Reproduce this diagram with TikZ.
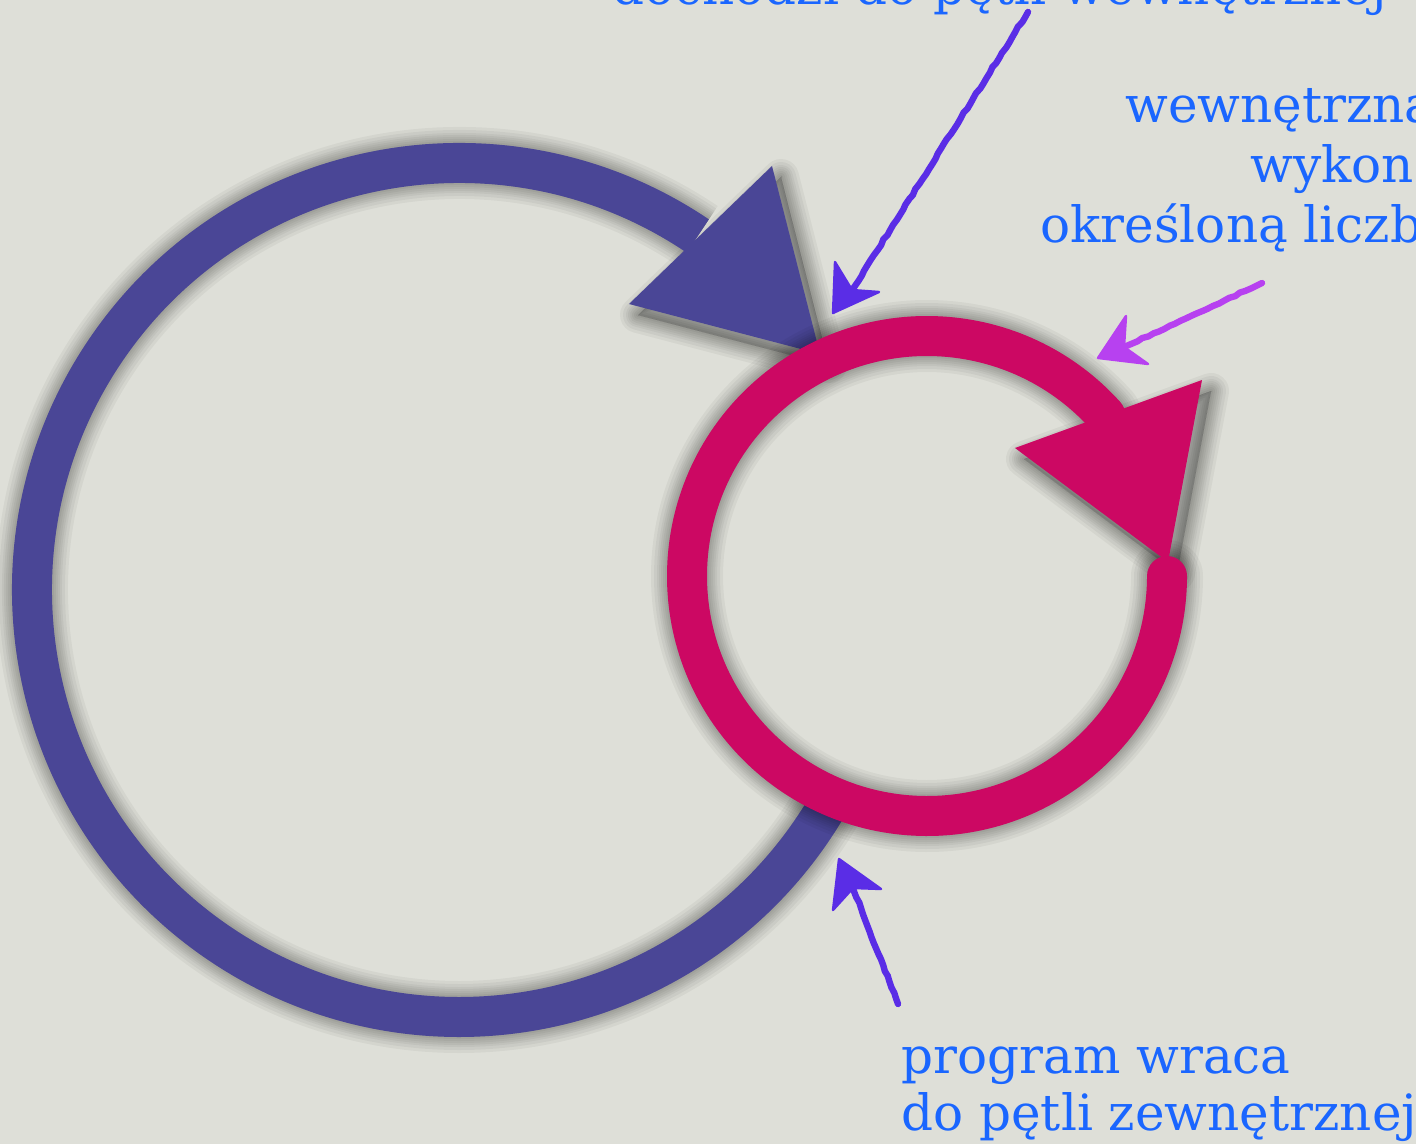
\documentclass[tikz,border=0pt]{standalone}
\usepackage{fontspec}
\setmainfont{DejaVu Serif}
\usetikzlibrary{calc,decorations.pathmorphing}
\definecolor{bgc}{HTML}{DEDFD8}
\definecolor{outerc}{HTML}{4A4696}
\definecolor{innerc}{HTML}{CC0863}
\definecolor{txtc}{HTML}{1A66FF}
\definecolor{penA}{HTML}{5A2DE6}
\definecolor{penB}{HTML}{B741F0}
\tikzset{
  label text/.style={text=txtc, font=\fontsize{25pt}{30pt}\selectfont, inner sep=0pt},
  pen shaft/.style={line width=3.2pt, line cap=round, decorate, decoration={random steps, segment length=3pt, amplitude=0.35pt}},
  pen head/.style={line width=1.2pt, line join=round},
  shadow layer/.style={black, opacity=0.045},
}
\begin{document}
\begin{tikzpicture}[x=0.5pt,y=-0.5pt]
\useasboundingbox (0,0) rectangle (1416,1144);
\fill[bgc] (0,0) rectangle (1416,1144);

\coordinate (C1) at (459,590);
\coordinate (C2) at (927,576);

% ---------- outer (purple) loop ----------
\def\outerarc{($(C1)+(-56:427)$) arc[start angle=-56, end angle=-330, radius=427]}
\def\outerhead{(629,304) -- (772,166) -- (820,354) -- cycle}
\begin{scope}[shift={(9,11)}]
  \fill[black, opacity=0.18] \outerhead;
  \foreach \w in {36,33,30,28,26,24,22,20,18} {
    \draw[shadow layer, line width=\w pt] \outerarc;
    \draw[shadow layer, line width=\w pt-18pt, line join=round] \outerhead;
  }
\end{scope}
\draw[outerc, line width=20pt] \outerarc;
\fill[outerc] \outerhead;

% ---------- inner (pink) loop ----------
\def\innerarc{($(C2)+(-42:240)$) arc[start angle=-42, end angle=-360, radius=240]}
\def\innerhead{(1015,448) -- (1202,380) -- (1168,562) -- cycle}
\begin{scope}[shift={(9,11)}]
  \fill[black, opacity=0.18] \innerhead;
  \foreach \w in {36,33,30,28,26,24,22,20,18} {
    \draw[shadow layer, line width=\w pt, line cap=round] \innerarc;
    \draw[shadow layer, line width=\w pt-18pt, line join=round] \innerhead;
  }
\end{scope}
\draw[innerc, line width=20pt, line cap=round] \innerarc;
\fill[innerc] \innerhead;

% ---------- hand-drawn pointers ----------
\coordinate (p1tail) at (1028,12);
\coordinate (p1tip) at (833,313);
\coordinate (p1a) at (835,262);
\coordinate (p1b) at (879,292);
\coordinate (p1n) at (852,290);
\draw[penA, pen shaft] (p1tail) -- (p1n);
\filldraw[penA, pen head] (p1a) -- (p1tip) -- (p1b) -- (p1n) -- cycle;

\coordinate (p2tail) at (1262,283);
\coordinate (p2tip) at (1098,358);
\coordinate (p2a) at (1126,316);
\coordinate (p2b) at (1148,364);
\coordinate (p2n) at (1124,347);
\draw[penB, pen shaft] (p2tail) -- (p2n);
\filldraw[penB, pen head] (p2a) -- (p2tip) -- (p2b) -- (p2n) -- cycle;

\coordinate (p3tail) at (898,1004);
\coordinate (p3tip) at (839,859);
\coordinate (p3a) at (833,910);
\coordinate (p3b) at (881,889);
\coordinate (p3n) at (853,888);
\draw[penA, pen shaft] (p3tail) -- (p3n);
\filldraw[penA, pen head] (p3a) -- (p3tip) -- (p3b) -- (p3n) -- cycle;

% ---------- texts ----------
\node[label text, anchor=base west] (ttop) at (612,5) {dochodzi do pętli wewnętrznej};
\node[label text, anchor=base west] (tr1) at (1125,123) {wewnętrzna};
\node[label text, anchor=base west] (tr2) at (1250,183) {wykon};
\node[label text, anchor=base west] (tr3) at (1040,243) {określoną liczb};
\node[label text, anchor=base west] (tb1) at (901,1073) {program wraca};
\node[label text, anchor=base west] (tb2) at (901,1130) {do pętli zewnętrznej};
\end{tikzpicture}
\end{document}
